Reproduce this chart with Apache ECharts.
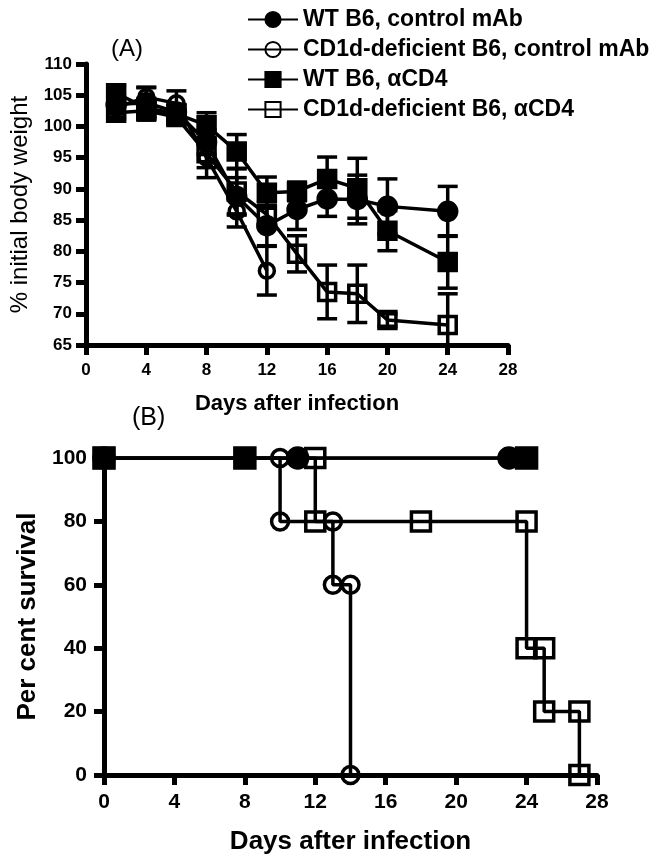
<!DOCTYPE html>
<html><head><meta charset="utf-8">
<script src="https://cdn.jsdelivr.net/npm/echarts@6/dist/echarts.min.js"></script>
<style>html,body{margin:0;padding:0;background:#fff}#c{width:654px;height:865px}</style>
</head><body><div id="c"></div>
<script>
// ---- Panel A: body weight (mean, SEM) ----
var daysA = [2, 4, 6, 8, 10, 12, 14, 16, 18, 20, 24];
var wtCtrlMean   = [103.5, 103.8, 102.3, 97.5, 88.8, 84.1, 86.7, 88.4, 88.3, 87.2, 86.4];
var wtCtrlSem    = [1.5, 2.5, 1.2, 2.0, 3.0, 3.2, 3.2, 2.8, 3.9, 4.4, 4.0];
var cd1dCtrlMean = [103.0, 104.7, 103.7, 95.0, 86.4, 76.9];
var cd1dCtrlSem  = [1.5, 1.5, 2.0, 3.2, 2.5, 3.9];
var wtCd4Mean    = [105.3, 103.0, 102.0, 100.2, 96.0, 89.4, 89.6, 91.6, 90.1, 83.3, 78.3];
var wtCd4Sem     = [1.2, 1.5, 1.5, 2.0, 2.7, 2.5, 1.5, 3.5, 4.8, 3.2, 4.2];
var cd1dCd4Mean  = [102.2, 102.5, 101.5, 95.7, 89.6, 85.9, 79.6, 73.5, 73.2, 69.0, 68.2];
var cd1dCd4Sem   = [1.0, 1.5, 1.2, 2.3, 3.6, 2.0, 2.9, 4.3, 4.6, 1.0, 5.0];
var yRangeA = [65, 110, 5];
var xRange = [0, 28, 4];
// ---- Panel B: survival (step vertices: day, percent) ----
var survWtCtrl   = [[0,100],[11,100],[23,100]];
var survCd1dCtrl = [[0,100],[10,100],[10,80],[13,80],[13,60],[14,60],[14,0]];
var survWtCd4    = [[0,100],[8,100],[24,100]];
var survCd1dCd4  = [[0,100],[12,100],[12,80],[18,80],[24,80],[24,40],[25,40],[25,20],[27,20],[27,0]];
var yRangeB = [0, 100, 20];
var names = ['WT B6, control mAb', 'CD1d-deficient B6, control mAb', 'WT B6, \u03b1CD4', 'CD1d-deficient B6, \u03b1CD4'];

var FONT = 'Liberation Sans, Arial, sans-serif';
var chart = echarts.init(document.getElementById('c'), null, {renderer: 'canvas'});

function pairs(xs, ys) { return ys.map(function (v, i) { return [xs[i], v]; }); }
function triples(xs, ys, es) { return ys.map(function (v, i) { return [xs[i], v, es[i]]; }); }

var markersA = [
  {symbol: 'circle', fill: '#000', size: 18},
  {symbol: 'circle', fill: 'rgba(255,255,255,0)', size: 15},
  {symbol: 'rect', fill: '#000', size: 17},
  {symbol: 'rect', fill: 'rgba(255,255,255,0)', size: 17}
];
var markersB = [
  {symbol: 'circle', fill: '#000', size: 20},
  {symbol: 'circle', fill: 'rgba(255,255,255,0)', size: 17},
  {symbol: 'rect', fill: '#000', size: 20},
  {symbol: 'rect', fill: 'rgba(255,255,255,0)', size: 19}
];

function lineSeries(i, data, xi) {
  var m = (xi === 0 ? markersA : markersB)[i];
  return {
    type: 'line', name: names[i], xAxisIndex: xi, yAxisIndex: xi, data: data,
    symbol: m.symbol, symbolSize: m.size, showSymbol: true,
    lineStyle: {color: '#000', width: 3.5},
    itemStyle: {color: m.fill, borderColor: '#000', borderWidth: 3.5},
    animation: false, z: 3
  };
}

function errSeries(data) {
  return {
    type: 'custom', xAxisIndex: 0, yAxisIndex: 0, data: data, animation: false, z: 2, clip: true,
    renderItem: function (params, api) {
      var x = api.value(0), y = api.value(1), e = api.value(2);
      var top = api.coord([x, y + e]), bot = api.coord([x, y - e]);
      var w = 10;
      var st = {stroke: '#000', lineWidth: 3.5};
      return {type: 'group', children: [
        {type: 'line', shape: {x1: top[0], y1: top[1], x2: bot[0], y2: bot[1]}, style: st},
        {type: 'line', shape: {x1: top[0] - w, y1: top[1], x2: top[0] + w, y2: top[1]}, style: st},
        {type: 'line', shape: {x1: bot[0] - w, y1: bot[1], x2: bot[0] + w, y2: bot[1]}, style: st}
      ]};
    }
  };
}

function axis(extra, labelSize, margin) {
  return Object.assign({
    type: 'value',
    axisLine: {show: true, lineStyle: {color: '#000', width: 5}},
    axisTick: {show: true, length: 10, lineStyle: {color: '#000', width: 5}},
    splitLine: {show: false},
    axisLabel: {color: '#000', fontFamily: FONT, fontWeight: 'bold', fontSize: labelSize, margin: margin}
  }, extra);
}

var option = {
  backgroundColor: '#fff',
  animation: false,
  textStyle: {fontFamily: FONT},
  legend: {
    data: names, orient: 'vertical', left: 242, top: 3, itemGap: 7,
    itemWidth: 50, itemHeight: 19,
    textStyle: {color: '#000', fontFamily: FONT, fontWeight: 'bold', fontSize: 23},
    selectedMode: false
  },
  grid: [
    {left: 86, top: 64, width: 422, height: 281},
    {left: 104, top: 458, width: 493, height: 317}
  ],
  xAxis: [
    axis({gridIndex: 0, min: xRange[0], max: xRange[1], interval: xRange[2],
      name: 'Days after infection', nameLocation: 'middle', nameGap: 48,
      nameTextStyle: {color: '#000', fontFamily: FONT, fontWeight: 'bold', fontSize: 22}}, 17, 17),
    axis({gridIndex: 1, min: xRange[0], max: xRange[1], interval: xRange[2],
      name: 'Days after infection', nameLocation: 'middle', nameGap: 54,
      nameTextStyle: {color: '#000', fontFamily: FONT, fontWeight: 'bold', fontSize: 26}}, 21, 17)
  ],
  yAxis: [
    axis({gridIndex: 0, min: yRangeA[0], max: yRangeA[1], interval: yRangeA[2],
      name: '% initial body weight', nameLocation: 'middle', nameGap: 54,
      nameTextStyle: {color: '#000', fontFamily: FONT, fontSize: 24}}, 17, 14),
    axis({gridIndex: 1, min: yRangeB[0], max: yRangeB[1], interval: yRangeB[2],
      name: 'Per cent survival', nameLocation: 'middle', nameGap: 60,
      nameTextStyle: {color: '#000', fontFamily: FONT, fontWeight: 'bold', fontSize: 26}}, 21, 17)
  ],
  graphic: [
    {type: 'text', left: 111, top: 37, style: {text: '(A)', font: '24px ' + FONT, fill: '#000'}},
    {type: 'text', left: 132, top: 406, style: {text: '(B)', font: '25px ' + FONT, fill: '#000'}}
  ],
  series: [
    errSeries(triples(daysA, wtCtrlMean, wtCtrlSem)),
    errSeries(triples(daysA, cd1dCtrlMean, cd1dCtrlSem)),
    errSeries(triples(daysA, wtCd4Mean, wtCd4Sem)),
    errSeries(triples(daysA, cd1dCd4Mean, cd1dCd4Sem)),
    lineSeries(0, pairs(daysA, wtCtrlMean), 0),
    lineSeries(1, pairs(daysA, cd1dCtrlMean), 0),
    lineSeries(2, pairs(daysA, wtCd4Mean), 0),
    lineSeries(3, pairs(daysA, cd1dCd4Mean), 0),
    lineSeries(0, survWtCtrl, 1),
    lineSeries(1, survCd1dCtrl, 1),
    lineSeries(2, survWtCd4, 1),
    lineSeries(3, survCd1dCd4, 1)
  ]
};
chart.setOption(option);
</script></body></html>
